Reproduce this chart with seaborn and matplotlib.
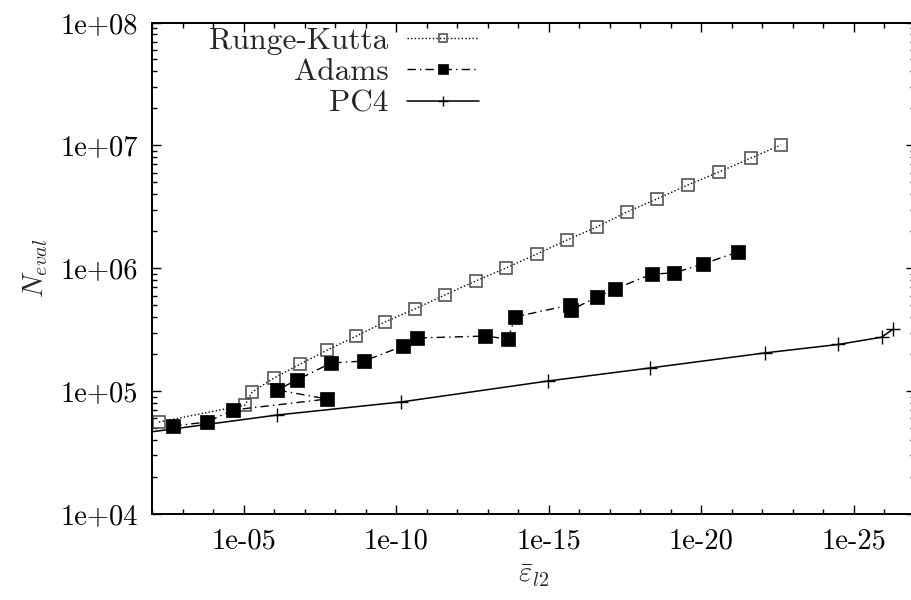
import matplotlib
matplotlib.use("Agg")
import matplotlib.pyplot as plt
import seaborn as sns
from matplotlib.ticker import LogLocator, FixedLocator, FuncFormatter, NullFormatter

# Runge-Kutta: l2 error vs. number of function evaluations
rk_err = [5.9e-3, 8.9e-6, 5.2e-6, 1.0e-6, 1.4e-7, 1.8e-8, 2.0e-9, 2.3e-10,
          2.4e-11, 2.5e-12, 2.4e-13, 2.5e-14, 2.4e-15, 2.5e-16, 2.6e-17,
          2.7e-18, 2.8e-19, 2.7e-20, 2.6e-21, 2.3e-22, 2.4e-23]
rk_neval = [56100, 77200, 98600, 128000, 166000, 216000, 281000, 366000,
            467000, 607000, 789000, 1005000, 1306000, 1698000, 2168000,
            2873000, 3664000, 4764000, 6073000, 7889000, 10070000]

# Adams
ad_err = [2.0e-3, 1.6e-4, 2.2e-5, 1.8e-8, 7.9e-7, 1.8e-7, 1.35e-8, 1.12e-9,
          5.9e-11, 2.0e-11, 1.2e-13, 2.1e-14, 1.26e-14, 2.0e-16, 1.8e-16,
          2.6e-17, 6.6e-18, 4.0e-19, 7.7e-20, 8.6e-21, 6.2e-22]
ad_neval = [52100, 56100, 70300, 86400, 102300, 123300, 169600, 176000,
            233000, 271000, 281000, 266000, 402000, 502000, 458000,
            584000, 679000, 899000, 916000, 1084000, 1358000]

# PC4
pc_err = [1.0e-1, 7.9e-7, 6.9e-11, 1.05e-15, 4.7e-19, 7.9e-23, 3.2e-25,
          1.2e-26, 5.0e-27]
pc_neval = [43300, 64000, 81700, 121000, 154500, 205000, 240000, 275000,
            320000]

x_major = [1e-5, 1e-10, 1e-15, 1e-20, 1e-25]

sns.set_style("ticks")
plt.rcParams.update({
    "font.family": ["cmr10", "DejaVu Serif"],
    "mathtext.fontset": "cm",
    "axes.formatter.use_mathtext": True,
    "font.size": 20.5,
    "axes.linewidth": 1.4,
    "axes.edgecolor": "black",
    "xtick.color": "black",
    "ytick.color": "black",
})

fig = plt.figure(figsize=(9.11, 6.0), dpi=100)
ax = fig.add_axes([152 / 911, (600 - 514.1) / 600, 762.5 / 911, (514.1 - 22.5) / 600])

sns.lineplot(x=rk_err, y=rk_neval, sort=False, estimator=None, ax=ax,
             color="black", linewidth=1.0, linestyle=(0, (1, 1.6)),
             marker="s", markersize=8, markerfacecolor="none",
             markeredgecolor="#555555", markeredgewidth=1.2,
             label="Runge-Kutta")
sns.lineplot(x=ad_err, y=ad_neval, sort=False, estimator=None, ax=ax,
             color="black", linewidth=1.0, linestyle=(0, (6, 3, 1, 3)),
             marker="s", markersize=9.5, markerfacecolor="black",
             markeredgecolor="black", markeredgewidth=0.5,
             label="Adams")
sns.lineplot(x=pc_err, y=pc_neval, sort=False, estimator=None, ax=ax,
             color="black", linewidth=1.1, linestyle="-",
             marker="+", markersize=10, markeredgecolor="black",
             markeredgewidth=1.0, label="PC4")

ax.set_xscale("log")
ax.set_yscale("log")
ax.set_xlim(1e-2, 1e-27)
ax.set_ylim(1e4, 1e8)

ax.xaxis.set_major_locator(FixedLocator(x_major))
ax.xaxis.set_minor_locator(FixedLocator([10.0 ** (-k) for k in range(0, 30)]))
ax.xaxis.set_minor_formatter(NullFormatter())
ax.yaxis.set_major_locator(LogLocator(base=10))
ax.yaxis.set_minor_locator(LogLocator(base=10, subs=range(2, 10)))
ax.yaxis.set_minor_formatter(NullFormatter())
fmt = FuncFormatter(lambda v, p: f"{v:.0e}")
ax.xaxis.set_major_formatter(fmt)
ax.yaxis.set_major_formatter(fmt)

ax.tick_params(which="both", direction="in", top=True, right=True, width=1.0)
ax.tick_params(which="major", length=6.5, pad=10)
ax.tick_params(which="minor", length=3.3)
for s in ax.spines.values():
    s.set_visible(True)

ax.set_xlabel(r"$\bar{\varepsilon}_{l2}$", fontsize=20.5, labelpad=6)
ax.set_ylabel(r"$N_{eval}$", fontsize=20.5, labelpad=8)

leg = ax.legend(loc="upper left", bbox_to_anchor=(0.075, 0.99), frameon=False,
                markerfirst=False, handlelength=2.3, handletextpad=0.6,
                labelspacing=0.1, borderpad=0, borderaxespad=0, fontsize=22.5,
                markerscale=0.75)

fig.savefig("out.png", dpi=100)
